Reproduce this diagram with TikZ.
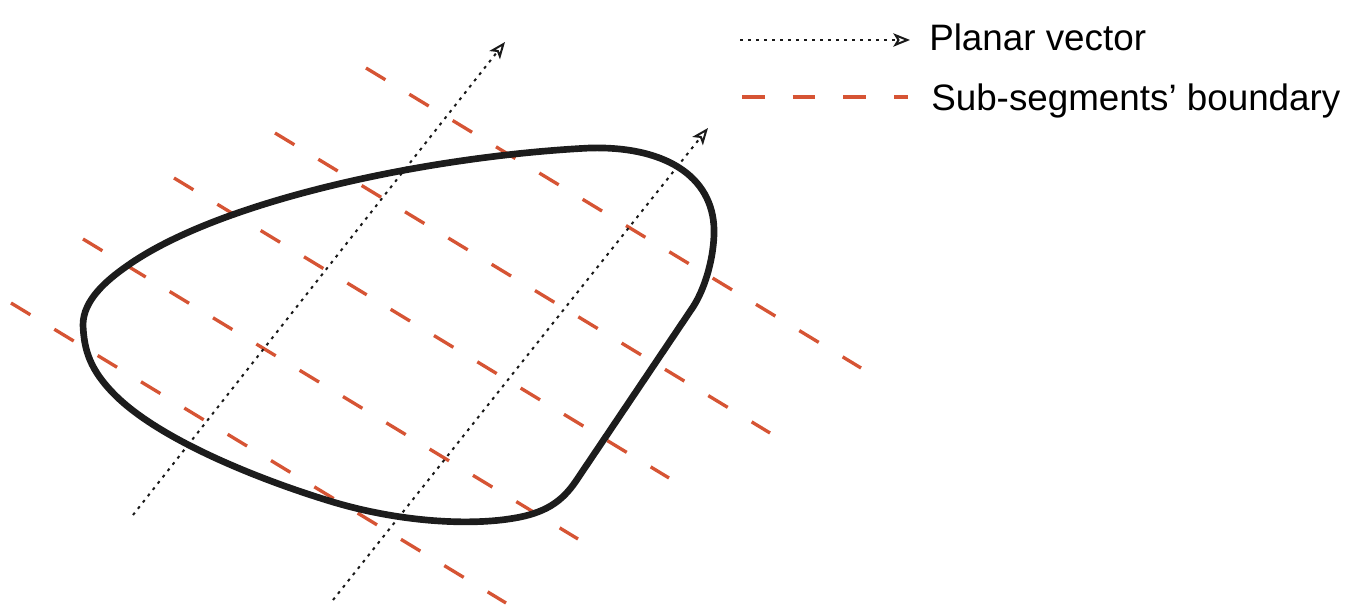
\documentclass[tikz,border=0pt]{standalone}
\usepackage{fontspec}
\setmainfont{Liberation Sans}
\usetikzlibrary{arrows.meta}
\definecolor{segred}{RGB}{214,84,52}
\definecolor{curveblack}{RGB}{28,28,28}
\begin{document}
\begin{tikzpicture}[x=0.75pt,y=-0.75pt,
  boundary/.style={segred, line width=2.5pt, dash pattern=on 17pt off 21pt},
  vector/.style={black!90, line width=1.5pt, dash pattern=on 2.2pt off 3.8pt,
    -{Stealth[open,length=12.5pt,width=10pt,inset=3pt,line width=1.5pt]}},
  outline/.style={curveblack, line width=5pt, line join=round},
  legendtext/.style={anchor=base west, inner sep=0pt, font=\fontsize{27.6pt}{30pt}\selectfont}]
\useasboundingbox (0,0) rectangle (1355,605);

% sub-segment boundaries
\coordinate (a1) at (366,68);  \coordinate (a2) at (861,368);
\coordinate (b1) at (275,133); \coordinate (b2) at (770,433);
\coordinate (c1) at (174,178); \coordinate (c2) at (669,478);
\coordinate (d1) at (83,239);  \coordinate (d2) at (578,539);
\coordinate (e1) at (11,303);  \coordinate (e2) at (506,603);
\foreach \l in {a,b,c,d,e} \draw[boundary] (\l1) -- (\l2);

% closed outline
\draw[outline] (83,325)
  .. controls (83,300) and (107,280) .. (127,266)
  .. controls (220,200) and (430,156) .. (590,148)
  .. controls (670,146) and (716,180) .. (714,235)
  .. controls (713,262) and (704,290) .. (693,307)
  -- (578,478)
  .. controls (565,498) and (550,512) .. (515,518)
  .. controls (470,526) and (400,522) .. (333,502)
  .. controls (260,480) and (160,440) .. (115,395)
  .. controls (90,370) and (84,350) .. cycle;

% planar vectors
\coordinate (v1s) at (133,515); \coordinate (v1e) at (505,42);
\coordinate (v2s) at (333,600); \coordinate (v2e) at (708,128);
\draw[vector] (v1s) -- (v1e);
\draw[vector] (v2s) -- (v2e);

% legend
\coordinate (lv1) at (740,40); \coordinate (lv2) at (910,40);
\coordinate (lb1) at (742,97); \coordinate (lb2) at (908,97);
\draw[vector] (lv1) -- (lv2);
\draw[boundary] (lb1) -- (lb2);
\node[legendtext] (tv) at (929,51) {Planar vector};
\node[legendtext] (tb) at (931,111) {Sub-segments' boundary};
\end{tikzpicture}
\end{document}
